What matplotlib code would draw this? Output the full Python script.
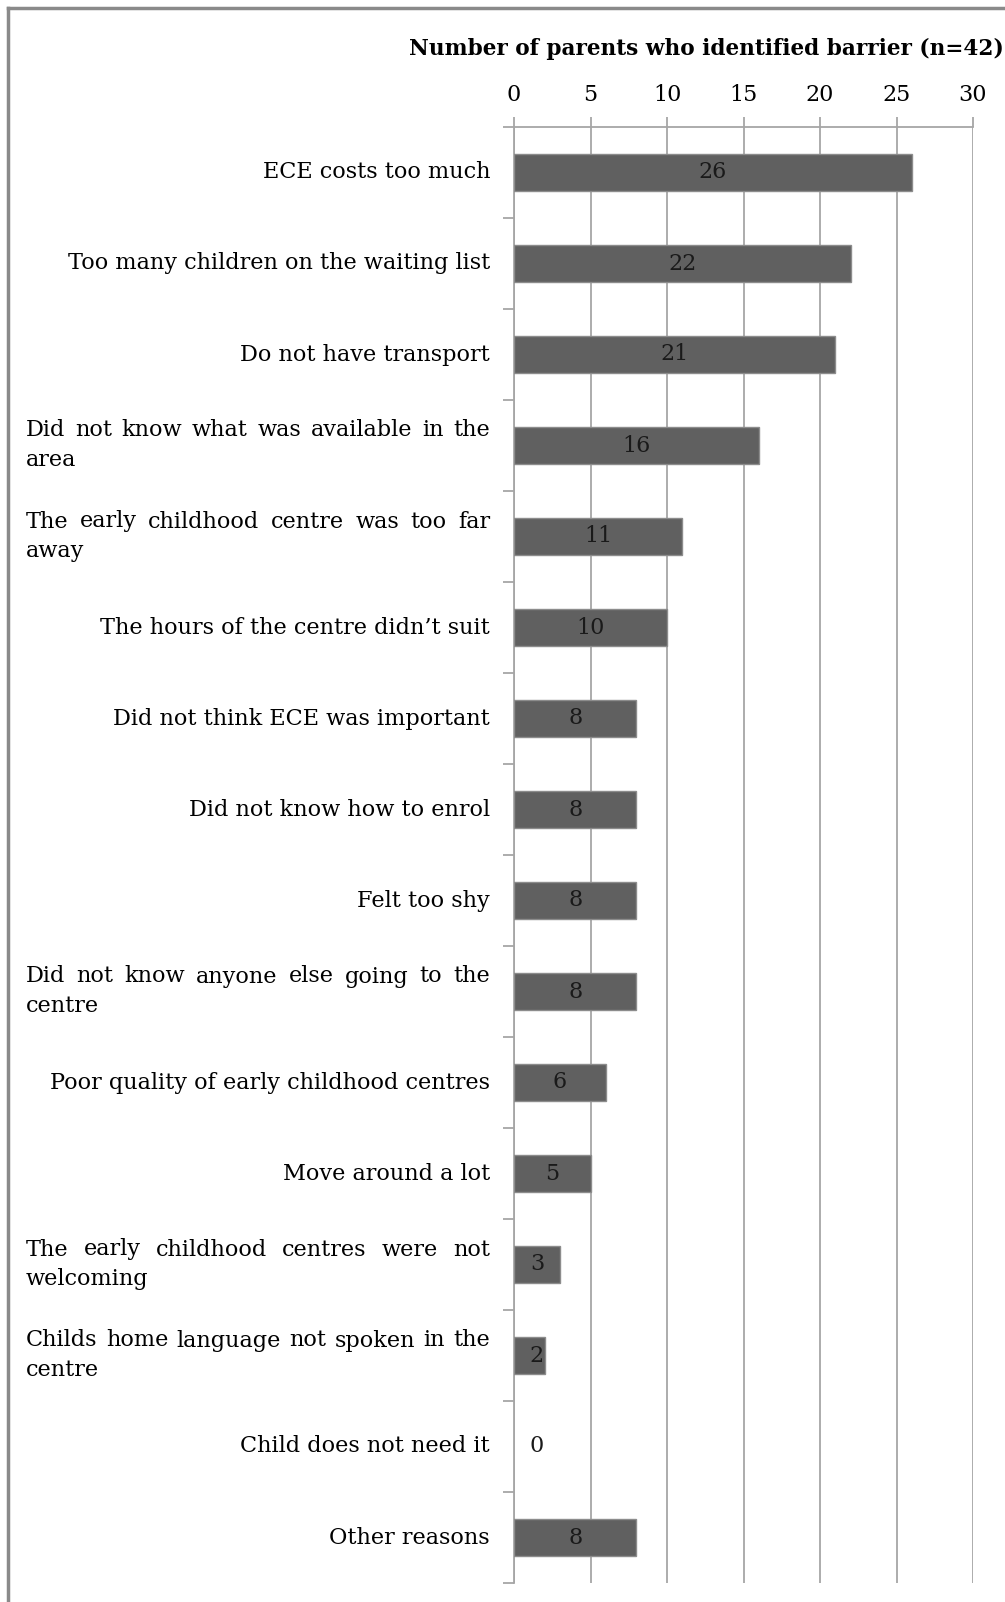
import matplotlib.pyplot as plt
import numpy as np
from matplotlib.lines import Line2D
from matplotlib.transforms import blended_transform_factory, offset_copy

# data
barriers = [
    "ECE costs too much",
    "Too many children on the waiting list",
    "Do not have transport",
    "Did not know what was available in the\narea",
    "The early childhood centre was too far\naway",
    "The hours of the centre didn\u2019t suit",
    "Did not think ECE was important",
    "Did not know how to enrol",
    "Felt too shy",
    "Did not know anyone else going to the\ncentre",
    "Poor quality of early childhood centres",
    "Move around a lot",
    "The early childhood centres were not\nwelcoming",
    "Childs home language not spoken in the\ncentre",
    "Child does not need it",
    "Other reasons",
]
counts = [26, 22, 21, 16, 11, 10, 8, 8, 8, 8, 6, 5, 3, 2, 0, 8]
x_ticks = [0, 5, 10, 15, 20, 25, 30]
title = "Number of parents who identified barrier (n=42)"

plt.rcParams['font.family'] = ['DejaVu Serif']

W, H = 1005, 1602
fig = plt.figure(figsize=(W / 100, H / 100), dpi=100)
ax = fig.add_axes([514 / W, 1 - 1583 / H, (973 - 514) / W, (1583 - 127) / H])

n = len(barriers)
ypos = np.arange(n)
ax.barh(ypos, counts, height=0.4, color='#606060', edgecolor='#8c8c8c',
        linewidth=[1 if v else 0 for v in counts], zorder=3)
ax.set_xlim(0, 30)
ax.set_ylim(n - 0.5, -0.5)

grid_c = '#a6a6a6'
ax.xaxis.tick_top()
ax.set_xticks(x_ticks)
ax.tick_params(axis='x', direction='out', length=7, width=1.3, color=grid_c,
               labelsize=16, pad=8)
ax.grid(axis='x', color=grid_c, linewidth=1.3, zorder=0)
ax.set_yticks([])
ax.set_yticks(np.arange(-0.5, n), minor=True)
ax.tick_params(axis='y', which='minor', direction='out', length=8, width=1.3,
               color=grid_c, labelleft=False)
for side in ('right', 'bottom'):
    ax.spines[side].set_visible(False)
for side in ('top', 'left'):
    ax.spines[side].set_color(grid_c)
    ax.spines[side].set_linewidth(1.3)

# value labels inside the bars
for i, v in enumerate(counts):
    ax.text(max(v / 2, 1.45), i, str(v), ha='center', va='center',
            fontsize=16, color='#1a1a1a', zorder=4)

# category labels (two-line ones are justified like the original)
blend = blended_transform_factory(fig.transFigure, ax.transData)
x_left, x_right = 26, 490
fs = 16.1
renderer = fig.canvas.get_renderer()
for i, lab in enumerate(barriers):
    lines = lab.split('\n')
    if len(lines) == 1:
        ax.text(x_right / W, i, lab, transform=blend, ha='right', va='center',
                fontsize=fs)
        continue
    t1 = offset_copy(blend, fig=fig, y=15, units='dots')
    t2 = offset_copy(blend, fig=fig, y=-15, units='dots')
    words = lines[0].split()
    texts = [ax.text(0, i, w, transform=t1, ha='left', va='center', fontsize=fs)
             for w in words]
    widths = [t.get_window_extent(renderer).width for t in texts]
    gap = (x_right - x_left - sum(widths)) / (len(words) - 1)
    x = x_left
    for t, w in zip(texts, widths):
        t.set_x(x / W)
        x += w + gap
    ax.text(x_left / W, i, lines[1], transform=t2, ha='left', va='center',
            fontsize=fs)

fig.text(706 / W, 1 - 49 / H, title, ha='center', va='center', fontsize=15.6,
         fontweight='bold')

# frame round the picture (only top and left edges show)
fig.add_artist(Line2D([7.5 / W, 1], [1 - 7.5 / H] * 2, transform=fig.transFigure,
                      color='#8a8a8a', linewidth=2.5))
fig.add_artist(Line2D([7.5 / W] * 2, [0, 1 - 7.5 / H], transform=fig.transFigure,
                      color='#8a8a8a', linewidth=2.5))

fig.savefig('out.png', dpi=100)
